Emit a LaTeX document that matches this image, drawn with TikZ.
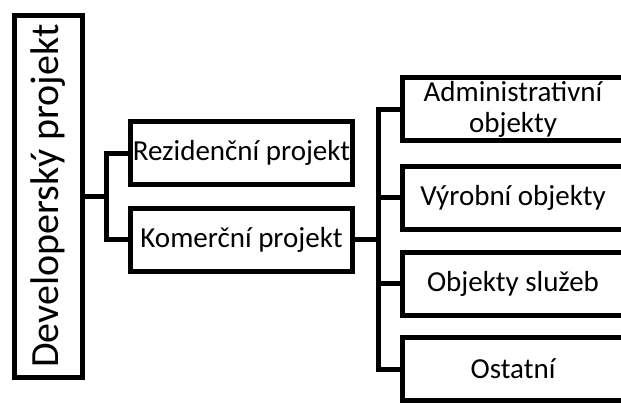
\documentclass[tikz,border=0pt]{standalone}
\usepackage{fontspec}
\setmainfont{Carlito}
\begin{document}
\begin{tikzpicture}[x=1pt,y=-1pt,
  box/.style={draw=black,line width=5pt,fill=white,inner sep=0pt,
    minimum width=222pt,minimum height=63pt,
    font=\fontsize{29}{31}\selectfont,align=center},
  mainbox/.style={draw=black,line width=5pt,fill=white,inner sep=0pt,
    minimum width=68pt,minimum height=362pt},
  conn/.style={line width=5pt,draw=black}]
\useasboundingbox (0,0) rectangle (621,402);
\clip (0,0) rectangle (621,402);
\node[mainbox] (main) at (48.5,196) {};
\node[rotate=90,font=\fontsize{40}{44}\selectfont,inner sep=0pt] (mt) at (48.5,196) {Developerský projekt};
\node[box] (rez) at (241.5,153) {Rezidenční projekt};
\node[box] (kom) at (241.5,239.5) {Komerční projekt};
\node[box] (adm) at (513,109) {Administrativní\\objekty};
\node[box] (vyr) at (513,197.5) {Výrobní objekty};
\node[box] (slu) at (513,283.5) {Objekty služeb};
\node[box] (ost) at (513,369) {Ostatní};
\coordinate (j1) at (106,196);
\coordinate (j2) at (378,239.5);
\draw[conn] (main.east) -- (j1);
\draw[conn] (rez.west) -| (j1) |- (kom.west);
\draw[conn] (kom.east) -- (j2);
\draw[conn] (adm.west) -| (j2) |- (ost.west);
\draw[conn] (vyr.west) -- (vyr.west -| j2);
\draw[conn] (slu.west) -- (slu.west -| j2);
\end{tikzpicture}
\end{document}
